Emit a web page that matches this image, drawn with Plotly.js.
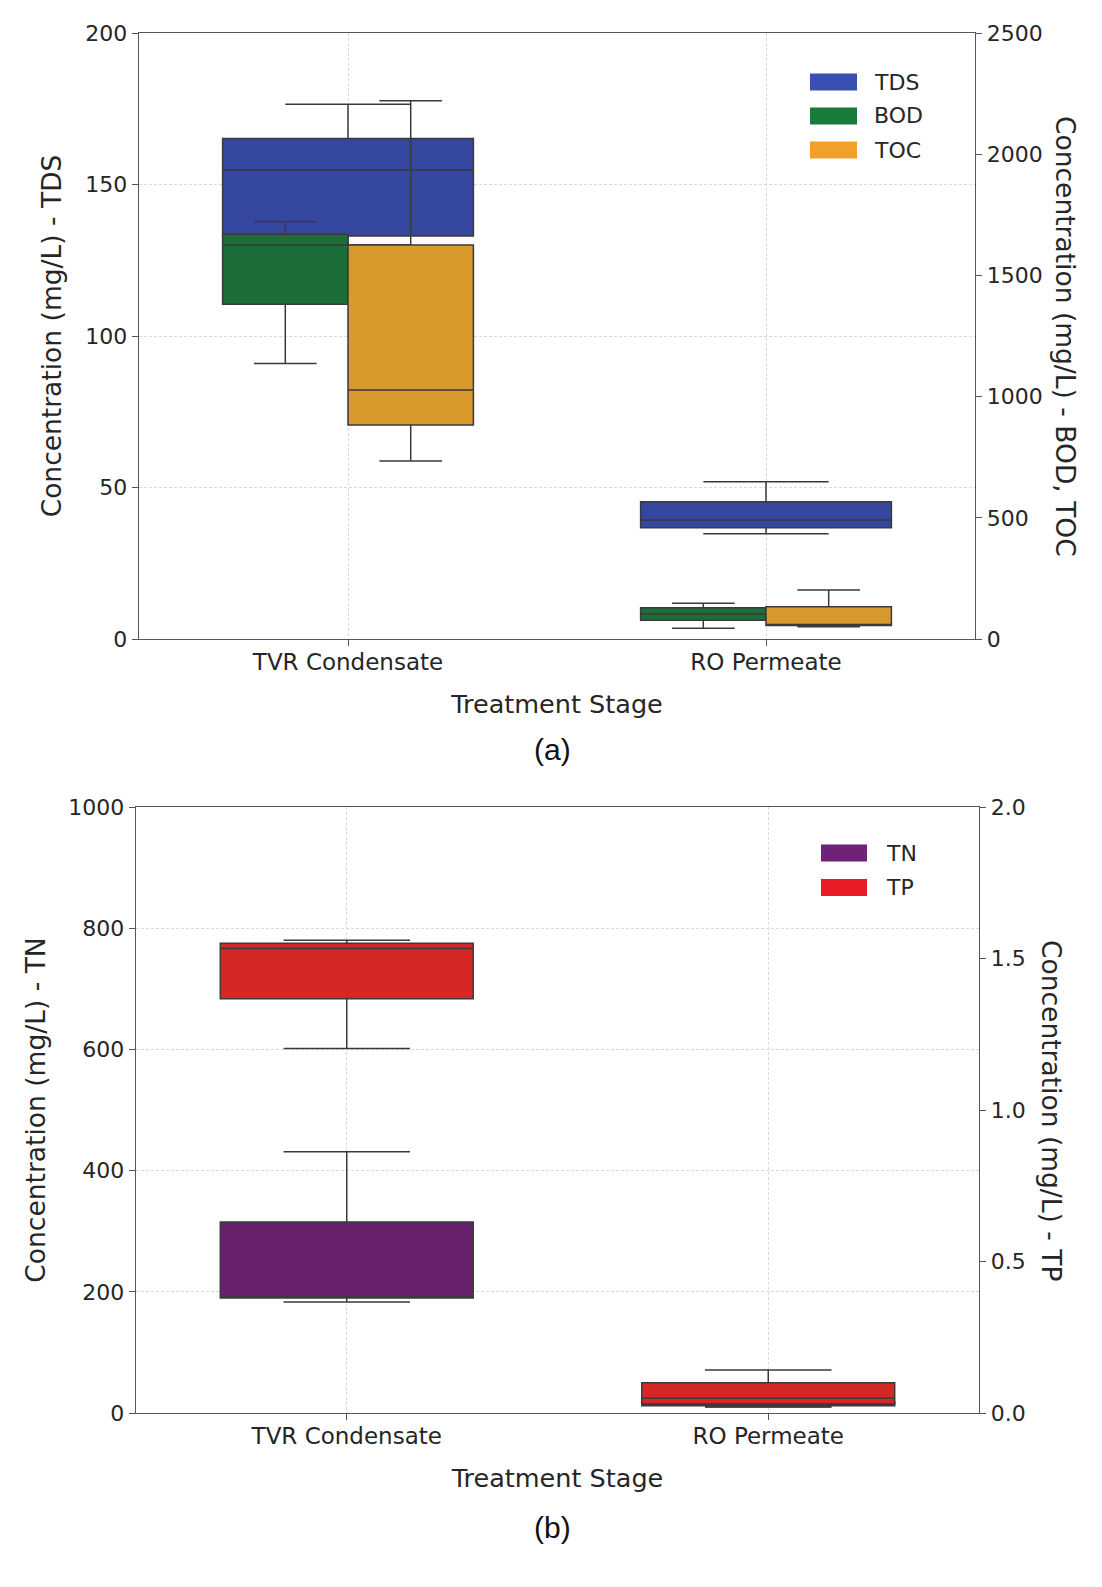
<!DOCTYPE html>
<html>
<head>
<meta charset="utf-8">
<script src="https://cdn.plot.ly/plotly-3.0.1.min.js"></script>
<style>
  body { margin: 0; background: #fff; }
</style>
</head>
<body>
<div id="chart" style="width:1102px;height:1587px"></div>
<script>
// categories
var stages = ['TVR Condensate', 'RO Permeate'];

// (a) TDS, left axis (mg/L)
var tdsLow = [130, 34.7];
var tdsQ1 = [133, 36.7];
var tdsMed = [154.8, 39.3];
var tdsQ3 = [165.2, 45.3];
var tdsHigh = [176.5, 51.9];

// (a) BOD, right axis (mg/L)
var bodLow = [1137, 44];
var bodQ1 = [1381, 77];
var bodMed = [1625, 103];
var bodQ3 = [1670, 129];
var bodHigh = [1722, 147];

// (a) TOC, right axis (mg/L)
var tocLow = [734, 51];
var tocQ1 = [883, 56];
var tocMed = [1027, 58];
var tocQ3 = [1625, 133];
var tocHigh = [2221, 202];

// (b) TN, left axis (mg/L)
var tnLow = [183, 10];
var tnQ1 = [189.6, 12];
var tnMed = [192, 15];
var tnQ3 = [315, 18];
var tnHigh = [431, 22];

// (b) TP, right axis (mg/L)
var tpLow = [1.203, 0.021];
var tpQ1 = [1.367, 0.030];
var tpMed = [1.533, 0.049];
var tpQ3 = [1.55, 0.100];
var tpHigh = [1.56, 0.142];

var names = ['TDS', 'BOD', 'TOC', 'TN', 'TP'];
var boxColors = ['#35479f', '#1b6e37', '#d89a2c', '#68226c', '#d42726'];
var legendColors = ['#3a50b0', '#1a7a3a', '#f2a02a', '#6e2278', '#e81c24'];

var edge = '#3a3a3a';
var textCol = '#262626';
var font = 'DejaVu Sans, sans-serif';

function makeBox(i, low, q1, med, q3, high, xa, ya, agroup) {
    return {
        type: 'box',
        name: names[i],
        x: stages,
        lowerfence: low,
        q1: q1,
        median: med,
        q3: q3,
        upperfence: high,
        boxpoints: false,
        fillcolor: boxColors[i],
        line: {color: edge, width: 1.5},
        whiskerwidth: 0.5,
        xaxis: xa,
        yaxis: ya,
        alignmentgroup: agroup,
        offsetgroup: names[i],
        showlegend: false
    };
}

var data = [
    makeBox(0, tdsLow, tdsQ1, tdsMed, tdsQ3, tdsHigh, 'x', 'y', 'a'),
    makeBox(1, bodLow, bodQ1, bodMed, bodQ3, bodHigh, 'x', 'y2', 'b'),
    makeBox(2, tocLow, tocQ1, tocMed, tocQ3, tocHigh, 'x', 'y2', 'b'),
    makeBox(3, tnLow, tnQ1, tnMed, tnQ3, tnHigh, 'x2', 'y3', 'c'),
    makeBox(4, tpLow, tpQ1, tpMed, tpQ3, tpHigh, 'x2', 'y4', 'd')
];

var W = 1102, H = 1587;
function px(x) { return x / W; }
function py(y) { return 1 - y / H; }

function xAxis(d0, d1, anchor) {
    return {
        domain: [px(d0), px(d1)],
        anchor: anchor,
        type: 'category',
        range: [-0.5, 1.5],
        showline: true, mirror: true,
        linecolor: '#555', linewidth: 1.3,
        ticks: 'outside', ticklen: 6, tickcolor: '#555',
        ticklabelstandoff: -4,
        tickfont: {family: font, size: 23, color: textCol},
        showgrid: true, gridcolor: '#d9d9d9', griddash: '3px,2px', gridwidth: 1,
        zeroline: false,
        title: {text: 'Treatment Stage', font: {family: font, size: 25.5, color: textCol}, standoff: 21}
    };
}

function yLeft(d0, d1, anchor, top, step, label, standoff) {
    return {
        domain: [py(d1), py(d0)],
        anchor: anchor,
        range: [0, top], dtick: step,
        showline: true, linecolor: '#555', linewidth: 1.3,
        ticks: 'outside', ticklen: 6, tickcolor: '#555',
        tickfont: {family: font, size: 22, color: textCol},
        showgrid: true, gridcolor: '#d9d9d9', griddash: '3px,2px', gridwidth: 1,
        zeroline: false,
        title: {text: label, font: {family: font, size: 26.5, color: textCol}, standoff: standoff}
    };
}

function yRight(over, anchor, top, step, fmt) {
    return {
        overlaying: over,
        side: 'right',
        anchor: anchor,
        range: [0, top], dtick: step, tickformat: fmt,
        showline: true, linecolor: '#555', linewidth: 1.3,
        ticks: 'outside', ticklen: 6, tickcolor: '#555',
        tickfont: {family: font, size: 22, color: textCol},
        showgrid: false, zeroline: false
    };
}

// legend patches and labels, drawn by hand to get the wide matplotlib swatches
var shapes = [];
var annotations = [];
function legendRow(i, x0, x1, yc, tx) {
    shapes.push({
        type: 'rect', xref: 'paper', yref: 'paper',
        x0: px(x0), x1: px(x1), y0: py(yc + 8.5), y1: py(yc - 8.5),
        fillcolor: legendColors[i], line: {width: 0}
    });
    annotations.push({
        xref: 'paper', yref: 'paper', x: px(tx), y: py(yc),
        xanchor: 'left', yanchor: 'middle', showarrow: false,
        text: names[i], font: {family: font, size: 22, color: textCol}
    });
}
legendRow(0, 810, 857, 82, 872);
legendRow(1, 810, 857, 116, 872);
legendRow(2, 810, 857, 150, 872);
legendRow(3, 821, 867, 853, 884);
legendRow(4, 821, 867, 887.5, 884);

// right axis titles read top to bottom, as in the original
function centredText(text, x, y, angle, f) {
    annotations.push({
        xref: 'paper', yref: 'paper', x: px(x), y: py(y), showarrow: false,
        xanchor: 'center', yanchor: 'middle',
        textangle: angle, text: text, font: f
    });
}
var titleFont = {family: font, size: 26.5, color: textCol};
var capFont = {family: 'Liberation Sans, Arial, sans-serif', size: 30, color: '#111'};
centredText('Concentration (mg/L) - BOD, TOC', 1066, 336, 90, titleFont);
centredText('Concentration (mg/L) - TP', 1052, 1110, 90, titleFont);
centredText('(a)', 552, 749, 0, capFont);
centredText('(b)', 552, 1527, 0, capFont);

var layout = {
    width: W, height: H,
    margin: {l: 0, r: 0, t: 0, b: 0},
    paper_bgcolor: '#fff', plot_bgcolor: '#fff',
    boxmode: 'group', boxgap: 0.4, boxgroupgap: 0,
    showlegend: false,
    xaxis: xAxis(139, 975, 'y'),
    yaxis: yLeft(33, 639, 'x', 200, 50, 'Concentration (mg/L) - TDS', 16),
    yaxis2: yRight('y', 'x', 2500, 500, 'd'),
    xaxis2: xAxis(136, 979, 'y3'),
    yaxis3: yLeft(807, 1413, 'x2', 1000, 200, 'Concentration (mg/L) - TN', 15),
    yaxis4: yRight('y3', 'x2', 2, 0.5, '.1f'),
    shapes: shapes,
    annotations: annotations
};

Plotly.newPlot('chart', data, layout, {staticPlot: true});
</script>
</body>
</html>
